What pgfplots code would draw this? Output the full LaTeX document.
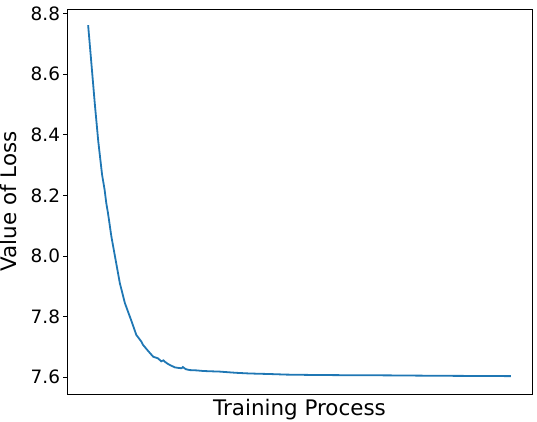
\documentclass[border=0pt]{standalone}
\usepackage{fontspec}
\setmainfont{DejaVu Sans}
\usepackage{pgfplots}
\pgfplotsset{compat=1.18}
\definecolor{tabblue}{HTML}{1F77B4}

\begin{document}
\begin{tikzpicture}
  \begin{axis}[
      scale only axis,
      width=465bp, height=385bp,
      xmin=-50, xmax=1050,
      ymin=7.544, ymax=8.8155,
      xtick=\empty,
      ytick={7.6,7.8,8.0,8.2,8.4,8.6,8.8},
      yticklabel style={font=\fontsize{18.5}{22}\selectfont},
      /pgf/number format/assume math mode=true,
      /pgf/number format/.cd, fixed, fixed zerofill, precision=1,
      /pgfplots/.cd,
      tick align=outside,
      major tick length=3.5bp,
      ytick pos=left,
      axis line style={line width=0.8bp},
      every tick/.style={line width=0.8bp, black},
      xlabel={Training Process},
      ylabel={Value of Loss},
      label style={font=\fontsize{21.5}{26}\selectfont},
      xlabel style={at={(axis description cs:0.5,0)}, anchor=base, yshift=-21bp},
      ylabel style={at={(axis description cs:-0.125,0.5)}, anchor=center},
    ]

    % loss curve
    \addplot[color=tabblue, line width=1.8bp] coordinates {
        (0,8.762) (8,8.631) (16,8.499) (24,8.378) (33,8.268) (39,8.218)
        (43,8.174) (47,8.141) (55,8.064) (65,7.987) (75,7.910) (87,7.844)
        (103,7.783) (110,7.755) (114,7.739) (126,7.717) (130,7.706)
        (142,7.686) (154,7.667) (165,7.662) (173,7.652) (178,7.655)
        (181,7.651) (187,7.645) (193,7.640) (205,7.632) (214,7.630)
        (221,7.629) (224,7.633) (231,7.626) (240,7.623) (256,7.622)
        (272,7.620) (290,7.619) (311,7.618) (330,7.616) (350,7.614)
        (364,7.613) (378,7.612) (400,7.611) (429,7.610) (470,7.608)
        (524,7.607) (570,7.6065) (618,7.606) (665,7.6058) (712,7.6055)
        (780,7.6047) (854,7.604) (930,7.6035) (1000,7.603)
    };

  \end{axis}
  \pgfresetboundingbox
  \path ([shift={(-67bp,-28bp)}]current axis.south west)
    rectangle ([shift={(5bp,9bp)}]current axis.north east);
\end{tikzpicture}
\end{document}
